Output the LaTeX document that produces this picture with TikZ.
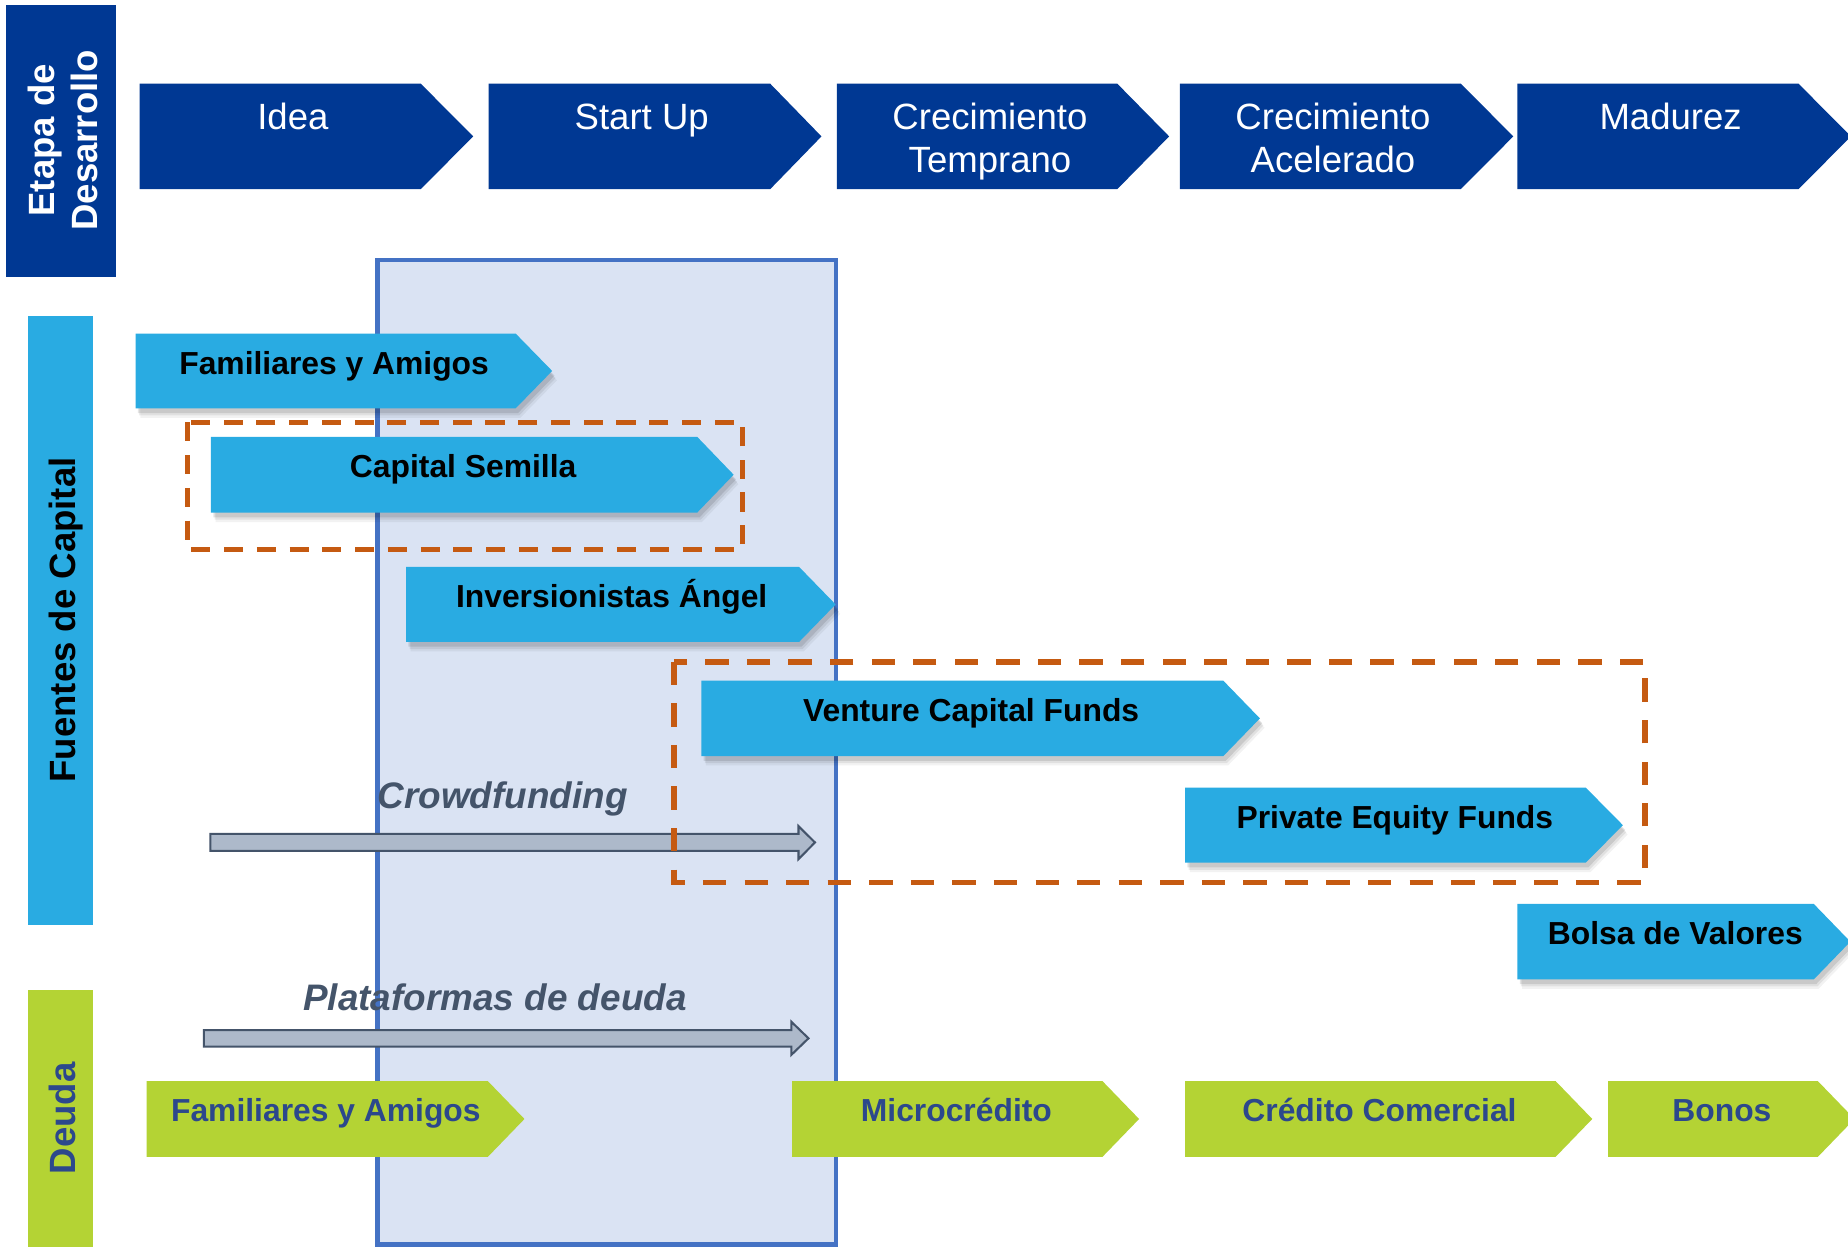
\documentclass[tikz,border=0pt]{standalone}
\usepackage{fontspec}
\setmainfont{Liberation Sans}
\definecolor{dkblue}{RGB}{0,56,147}
\definecolor{ltblue}{RGB}{41,171,226}
\definecolor{lgreen}{RGB}{180,211,52}
\definecolor{debttext}{RGB}{44,72,140}
\definecolor{orangeline}{RGB}{197,90,17}
\definecolor{rectfill}{RGB}{218,227,243}
\definecolor{rectline}{RGB}{68,114,196}
\definecolor{arrowfill}{RGB}{173,185,202}
\definecolor{slate}{RGB}{68,84,106}
\newcommand{\chevshape}[6]{\fill[#1] (#2,#3) -- (#4,#3) -- (#5,{(#3+#6)/2}) -- (#4,#6) -- (#2,#6) -- cycle;}
\newcommand{\capchev}[5]{%
  \chevshape{black,opacity=0.05,shift={(4,8)}}{#1}{#2}{#3}{#4}{#5}%
  \chevshape{black,opacity=0.07,shift={(3,6)}}{#1}{#2}{#3}{#4}{#5}%
  \chevshape{black,opacity=0.10,shift={(2,4)}}{#1}{#2}{#3}{#4}{#5}%
  \chevshape{ltblue}{#1}{#2}{#3}{#4}{#5}}
\tikzset{
  toptext/.style={anchor=base,inner sep=0pt,text=white,font=\fontsize{8.82}{10}\selectfont},
  sidetext/.style={anchor=base,inner sep=0pt,rotate=90,font=\fontsize{8.82}{10}\selectfont\bfseries},
  captext/.style={anchor=base,inner sep=0pt,text=black,font=\fontsize{7.68}{9}\selectfont\bfseries},
  debtlabel/.style={anchor=base,inner sep=0pt,text=debttext,font=\fontsize{7.68}{9}\selectfont\bfseries},
  itlabel/.style={anchor=base,inner sep=0pt,text=slate,font=\fontsize{8.9}{10}\selectfont\bfseries\itshape},
  blockarrow/.style={fill=arrowfill,draw=slate,line width=0.5pt,line join=miter},
  orangebox/.style={draw=orangeline,line width=1.37pt,dash pattern=on 5.63pt off 4.4pt},
  orangeboxthin/.style={draw=orangeline,line width=1.14pt,dash pattern=on 4.6pt off 3.3pt},
}
\begin{document}
\begin{tikzpicture}[x=0.01cm,y=-0.01cm]
\useasboundingbox (0,0) rectangle (1568,1058);
\clip (0,0) rectangle (1568,1058);
\fill[white] (0,0) rectangle (1568,1058);

% highlighted column
\draw[draw=rectline,fill=rectfill,line width=1.14pt] (320.5,220.7) rectangle (709.3,1055.8);

% side bars
\fill[dkblue] (5,4) rectangle (98.5,234.8);
\node[sidetext,text=white] (etapa1) at (46,119) {Etapa de};
\node[sidetext,text=white] (etapa2) at (82.5,119) {Desarrollo};
\fill[ltblue] (24,268) rectangle (79,784.7);
\node[sidetext,text=black] (fuentes) at (64,526) {Fuentes de Capital};
\fill[lgreen] (24,840) rectangle (79,1070);
\node[sidetext,text=debttext] (deuda) at (64,949) {Deuda};

% stage chevrons
\chevshape{dkblue}{118.5}{71}{357}{401.5}{160.5}
\chevshape{dkblue}{414.5}{71}{653.5}{697}{160.5}
\chevshape{dkblue}{710}{71}{948}{992}{160.5}
\chevshape{dkblue}{1001}{71}{1239.5}{1284}{160.5}
\chevshape{dkblue}{1287.5}{71}{1526}{1570.5}{160.5}
\node[toptext] (idea) at (248.5,110) {Idea};
\node[toptext] (startup) at (544.5,110) {Start Up};
\node[toptext] (ct1) at (840,110) {Crecimiento};
\node[toptext] (ct2) at (840,146.5) {Temprano};
\node[toptext] (ca1) at (1131,110) {Crecimiento};
\node[toptext] (ca2) at (1131,146.5) {Acelerado};
\node[toptext] (madurez) at (1417.5,110) {Madurez};

% capital sources
\capchev{115}{283}{437.5}{468.5}{346.5}
\node[captext] (fya) at (283.5,317.5) {Familiares y Amigos};
\capchev{179}{370.6}{591.5}{622.5}{435}
\node[captext] (semilla) at (393,405) {Capital Semilla};
\capchev{344.5}{481}{678}{709}{544.7}
\node[captext] (angel) at (519,515.5) {Inversionistas Ángel};
\capchev{595}{577.6}{1038}{1069}{641.5}
\node[captext] (vc) at (824,612) {Venture Capital Funds};
\capchev{1005.5}{668.3}{1345.5}{1377}{732}
\node[captext] (pe) at (1183.5,702.8) {Private Equity Funds};
\capchev{1287.5}{767}{1539}{1570}{831}
\node[captext] (bolsa) at (1421.5,801.5) {Bolsa de Valores};

% crowdfunding / debt platforms arrows
\draw[blockarrow] (178.5,707.6) -- (677.5,707.6) -- (677.5,701) -- (691.5,714.8) -- (677.5,729) -- (677.5,722) -- (178.5,722) -- cycle;
\node[itlabel] (crowd) at (426.5,685.6) {Crowdfunding};
\draw[blockarrow] (173,874) -- (671.5,874) -- (671.5,867) -- (686,881) -- (671.5,895) -- (671.5,888) -- (173,888) -- cycle;
\node[itlabel] (plat) at (420,857) {Plataformas de deuda};

% debt chevrons
\chevshape{lgreen}{124.5}{917.4}{414}{445}{981.5}
\node[debtlabel] (dfya) at (276.5,952) {Familiares y Amigos};
\chevshape{lgreen}{672}{917.4}{935.5}{966.5}{981.5}
\node[debtlabel] (micro) at (811.5,952) {Microcrédito};
\chevshape{lgreen}{1005.5}{917.4}{1320}{1351}{981.5}
\node[debtlabel] (cc) at (1170.5,952) {Crédito Comercial};
\chevshape{lgreen}{1364.5}{917.4}{1542.5}{1573.5}{981.5}
\node[debtlabel] (bonos) at (1461,952) {Bonos};

% dashed groups
\draw[orangeboxthin] (159.3,358.3) rectangle (630.2,466.3);
\draw[orangebox] (572,561.5) rectangle (1395.5,748.7);
\end{tikzpicture}
\end{document}
